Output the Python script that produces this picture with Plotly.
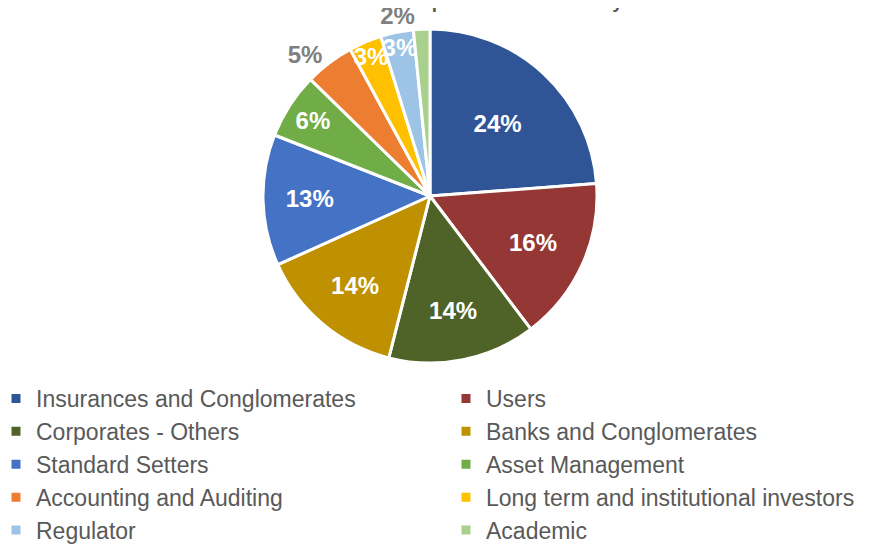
import plotly.graph_objects as go

categories = [
    "Insurances and Conglomerates", "Users", "Corporates - Others",
    "Banks and Conglomerates", "Standard Setters", "Asset Management",
    "Accounting and Auditing", "Long term and institutional investors",
    "Regulator", "Academic",
]
counts = [15, 10, 9, 9, 8, 4, 3, 2, 2, 1]
colors = ["#2F5597", "#953735", "#4F6228", "#BF9000", "#4472C4",
          "#70AD47", "#ED7D31", "#FFC000", "#9DC3E6", "#A9D18E"]
text_positions = ["inside", "inside", "inside", "inside", "inside",
                  "inside", "outside", "inside", "inside", "outside"]
title_text = "Response Breakdown by Sector"

W, H = 896, 546
MB = 180            # bottom margin reserved for the legend
PH = H - MB         # plot-area height

fig = go.Figure(go.Pie(
    labels=categories,
    values=counts,
    sort=False,
    direction="clockwise",
    rotation=0,
    marker=dict(colors=colors, line=dict(color="white", width=3)),
    texttemplate="<b>%{percent:.0%}</b>",
    textposition=text_positions,
    insidetextorientation="horizontal",
    insidetextfont=dict(family="Arial, Liberation Sans", size=24, color="white"),
    outsidetextfont=dict(family="Arial, Liberation Sans", size=24, color="#7F7F7F"),
    domain=dict(x=[255/W, 589/W], y=[1-355/PH, 1-21/PH]),
    hoverinfo="label+percent",
))

fig.update_layout(
    width=W, height=H,
    margin=dict(l=0, r=0, t=0, b=MB, autoexpand=False),
    paper_bgcolor="white",
    plot_bgcolor="white",
    uniformtext=dict(minsize=24, mode="show"),
    font=dict(family="Arial, Liberation Sans", color="#595959"),
    title=dict(text="<b>" + title_text + "</b>", x=534/W, xanchor="center",
               y=1.0, yanchor="bottom", yref="container",
               font=dict(size=19, color="#595959")),
    legend=dict(orientation="h", xref="paper", yref="paper",
                x=-12/W, xanchor="left", y=(PH-369)/PH, yanchor="top",
                entrywidth=405, entrywidthmode="pixels",
                font=dict(size=23, color="#595959"), itemwidth=30,
                traceorder="normal"),
)

fig.write_html("out.html")
